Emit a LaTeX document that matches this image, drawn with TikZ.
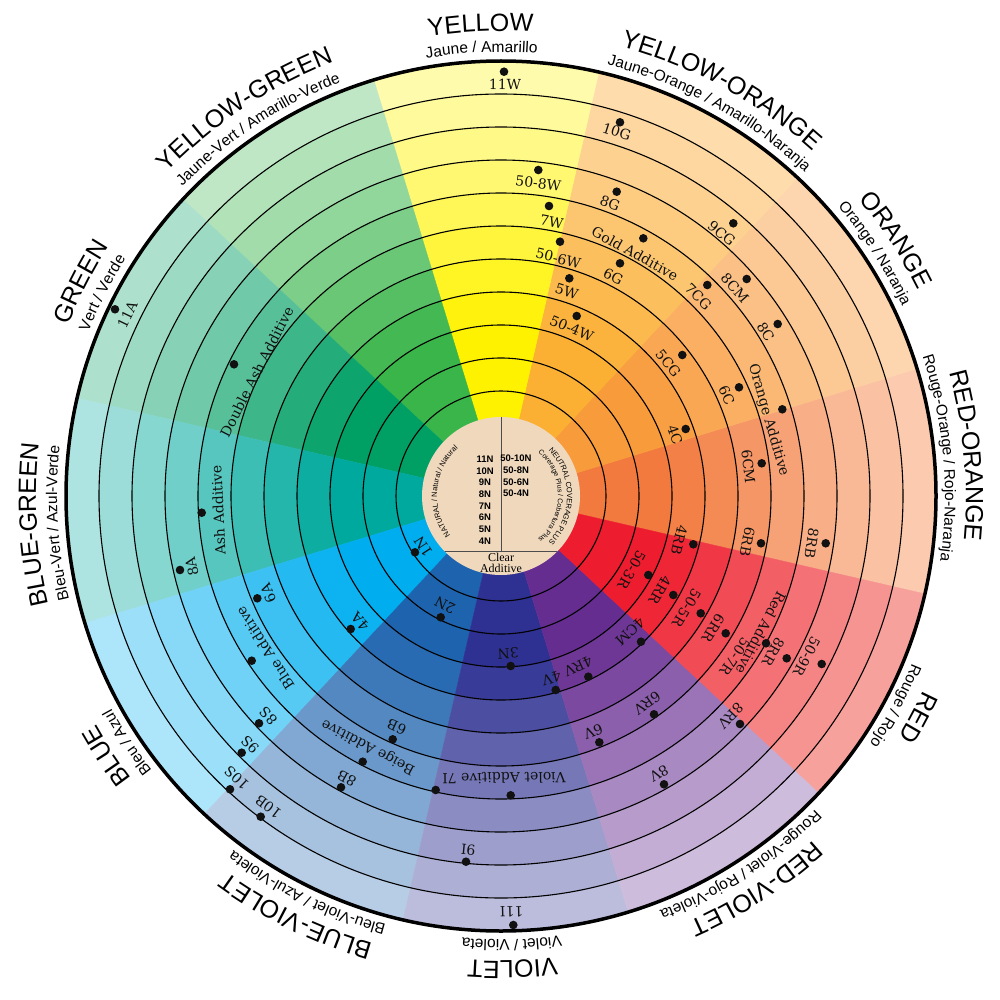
\documentclass[tikz,border=0pt]{standalone}
\usepackage{fontspec}
\setmainfont{Liberation Serif}
\setsansfont{Liberation Sans}
\newfontfamily\prodfont{DejaVu Serif}
\usetikzlibrary{decorations.text}
\definecolor{cY}{HTML}{FFF200}
\definecolor{cYO}{HTML}{FBB034}
\definecolor{cO}{HTML}{F89B3A}
\definecolor{cRO}{HTML}{F27A3E}
\definecolor{cR}{HTML}{ED1C2E}
\definecolor{cRV}{HTML}{662D91}
\definecolor{cV}{HTML}{2E3192}
\definecolor{cBV}{HTML}{1D63AE}
\definecolor{cB}{HTML}{00AEEF}
\definecolor{cBG}{HTML}{00A99D}
\definecolor{cG}{HTML}{00A065}
\definecolor{cYG}{HTML}{3AB54A}
\definecolor{tW}{HTML}{FFFFFF}
\definecolor{tWarm}{HTML}{FFF0E4}
\definecolor{tRed}{HTML}{FCE0D0}
\definecolor{cBeige}{HTML}{EFD8BC}
\definecolor{cTxt}{HTML}{111111}
\newcommand\mainlab{\sffamily\fontsize{25}{25}\selectfont}
\newcommand\sublab{\sffamily\fontsize{15.5}{15.5}\selectfont}
\tikzset{
  prod/.style={font=\prodfont\fontsize{14}{14}\selectfont, inner sep=0pt, text=cTxt},
  dotc/.style={fill=cTxt},
  ringline/.style={line width=1.1pt, draw=black},
  colf/.style={font=\sffamily\bfseries\fontsize{9.5}{11.7}\selectfont, align=center, inner sep=0pt},
}
\newcommand\lab[5]{\pgfmathsetmacro\myang{atan2(496-#2,#1-501)-90}\node[prod,rotate=\myang] at (#1,-#2) {#5};\fill[dotc] (#3,-#4) circle (4.3);}
\newcommand\labn[3]{\pgfmathsetmacro\myang{atan2(496-#2,#1-501)-90}\node[prod,rotate=\myang] at (#1,-#2) {#3};}
\newcommand\olab[4]{%
  \path[decorate,decoration={text along path,text align=center,text={|\mainlab|#2}}] ({#1+40}:465) arc[start angle={#1+40},end angle={#1-40},radius=465];
  \path[decorate,decoration={text along path,text align=center,text={|\sublab|#3 / #4}}] ({#1+40}:444) arc[start angle={#1+40},end angle={#1-40},radius=444];
}
\begin{document}
\begin{tikzpicture}[x=1pt,y=1pt]
\useasboundingbox (0,0) rectangle (1000,-1000);
\fill[white] (0,0) rectangle (1000,-1000);
\begin{scope}[shift={(501,-496)}]
\foreach \c/\t/\s in {cRO/tWarm/-13,cO/tWarm/17,cYO/tWarm/47,cY/tW/77,cYG/tW/107,cG/tW/137,cBG/tW/167,cB/tW/197,cBV/tW/227,cV/tW/257,cRV/tW/287,cR/tRed/317}{
  \foreach \p/\ri/\ro in {100/1/105,100/105/138,100/138/171,95/171/204,86/204/237,76/237/270,66/270/303,56/303/336,47/336/369,39/369/402,32/402/435}{
    \pgfmathsetmacro\e{\s+30}
    \filldraw[fill=\c!\p!\t,draw=\c!\p!\t,line width=0.4pt] (\s:\ri) arc[start angle=\s,end angle=\e,radius=\ri] -- (\e:\ro) arc[start angle=\e,end angle=\s,radius=\ro] -- cycle;
  }
}
\foreach \r in {105,138,...,402} \draw[ringline] (0,0) circle (\r);
\draw[line width=3.5pt] (0,0) circle (435);
\fill[cBeige] (0,0) circle (79);
\begin{scope}
\clip (0,0) circle (79);
\draw[line width=0.9pt,black!70] (0,80) -- (0,-55.7);
\draw[line width=0.9pt,black!70] (-80,-55.7) -- (80,-55.7);
\end{scope}
\path[decorate,decoration={text along path,text align=center,text={|\sffamily\fontsize{7.5}{7.5}\selectfont|NATURAL / Natural / Natural}}] (235:64) arc[start angle=235,end angle=115,radius=64];
\path[decorate,decoration={text along path,text align=center,text={|\sffamily\fontsize{7.5}{7.5}\selectfont|NEUTRAL COVERAGE PLUS}}] (70:66) arc[start angle=70,end angle=-70,radius=66];
\path[decorate,decoration={text along path,text align=center,text={|\sffamily\fontsize{7}{7}\selectfont|Coverage Plus / Cobertura Plus}}] (75:57) arc[start angle=75,end angle=-75,radius=57];
\olab{92.5}{YELLOW}{Jaune}{Amarillo}
\olab{61.5}{YELLOW-ORANGE}{Jaune-Orange}{Amarillo-Naranja}
\olab{33}{ORANGE}{Orange}{Naranja}
\olab{5}{RED-ORANGE}{Rouge-Orange}{Rojo-Naranja}
\olab{-28}{RED}{Rouge}{Rojo}
\olab{-57}{RED-VIOLET}{Rouge-Violet}{Rojo-Violeta}
\olab{-88.6}{VIOLET}{Violet}{Violeta}
\olab{-116}{BLUE-VIOLET}{Bleu-Violet}{Azul-Violeta}
\olab{-146.6}{BLUE}{Bleu}{Azul}
\olab{183.5}{BLUE-GREEN}{Bleu-Vert}{Azul-Verde}
\olab{153}{GREEN}{Vert}{Verde}
\olab{123.5}{YELLOW-GREEN}{Jaune-Vert}{Amarillo-Verde}
\end{scope}
\node[colf] (natcol) at (485,-500) {11N\\10N\\9N\\8N\\7N\\6N\\5N\\4N};
\node[colf] (neucol) at (516,-476) {50-10N\\50-8N\\50-6N\\50-4N};
\node[font=\fontsize{12}{10.5}\selectfont, align=center, inner sep=0pt] (clear) at (501,-563) {Clear\\Additive};
\lab{505}{84}{504}{71.7}{11W}
\lab{538.3}{183.3}{538.3}{170}{50-8W}
\lab{551.7}{221.7}{549}{206}{7W}
\lab{558.3}{258.3}{560}{241.7}{50-6W}
\lab{566.7}{291.7}{569.3}{278.3}{5W}
\lab{571.7}{328.3}{576.7}{316}{50-4W}
\lab{616.7}{131.7}{620}{122.3}{10G}
\lab{610}{203.3}{616.7}{191.7}{8G}
\lab{635}{253.3}{643.3}{238.3}{Gold Additive}
\lab{613.3}{276.7}{620}{263.3}{6G}
\lab{721.7}{233.3}{733.3}{223.3}{9CG}
\lab{698.3}{296.7}{707.3}{285}{7CG}
\lab{735}{288.3}{746.7}{279}{8CM}
\lab{765.7}{331.7}{777.7}{324}{8C}
\lab{668.3}{363.3}{682.3}{355}{5CG}
\lab{726.7}{395}{739}{387.3}{6C}
\lab{768.3}{420}{782.3}{409.3}{Orange Additive}
\lab{675}{435}{685.7}{429}{4C}
\lab{748.3}{466.7}{761.7}{463.3}{6CM}
\lab{679.3}{540}{693.3}{544.3}{4RB}
\lab{747.3}{541.7}{761}{543.3}{6RB}
\lab{811.7}{543.3}{825.7}{543.3}{8RB}
\lab{631.7}{570}{648.3}{575}{50-3R}
\lab{660}{590}{673.3}{595}{4RR}
\lab{686.7}{608.3}{700.7}{613.3}{50-5R}
\lab{713.3}{628.3}{725.7}{633.3}{6RR}
\lab{761}{633}{766}{643.3}{Red Additive}
\labn{735}{656.7}{50-7R}
\lab{773.3}{651.7}{786.7}{658.3}{8RR}
\lab{806.7}{656.7}{821.7}{664}{50-9R}
\lab{730.7}{716}{740}{724}{8RV}
\lab{630}{631.7}{641}{641.7}{4CM}
\lab{647.3}{703.3}{654}{714.3}{6RV}
\lab{593.3}{731.7}{599.3}{742.3}{6V}
\lab{659}{773.3}{664}{784.3}{8V}
\lab{578.3}{666.7}{588.3}{676.7}{4RV}
\lab{551.7}{678.3}{555.7}{690}{4V}
\lab{508.3}{653.3}{510.7}{666}{3N}
\lab{445}{605}{440.7}{617.3}{2N}
\lab{360}{621.7}{350.7}{629}{4A}
\lab{268.3}{593.3}{257.3}{598.3}{6A}
\lab{265}{648}{251.7}{660.7}{Blue Additive}
\lab{268.3}{716}{259}{723.3}{8S}
\lab{250}{745}{241.7}{752.7}{9S}
\lab{236.7}{778.3}{230}{789.3}{10S}
\lab{268.3}{806.7}{260.7}{816.7}{10B}
\lab{396.7}{726.7}{392.7}{739.3}{6B}
\lab{368.3}{746.7}{362.7}{761.7}{Beige Additive}
\lab{346.7}{778.3}{341}{787.3}{8B}
\lab{504}{778}{510.7}{795.3}{Violet Additive 7I}
\fill[dotc] (435.7,-790) circle (4.3);
\lab{468.3}{850}{466}{861.7}{9I}
\lab{511.7}{911.7}{513.3}{925}{11I}
\lab{127.3}{315}{115}{309.3}{11A}
\lab{256.7}{371.7}{234}{364.3}{Double Ash Additive}
\lab{218.3}{510}{201.7}{512.7}{Ash Additive}
\lab{191.7}{566.7}{180}{570}{8A}
\lab{423.3}{546.7}{415}{552.3}{1N}
\end{tikzpicture}
\end{document}
